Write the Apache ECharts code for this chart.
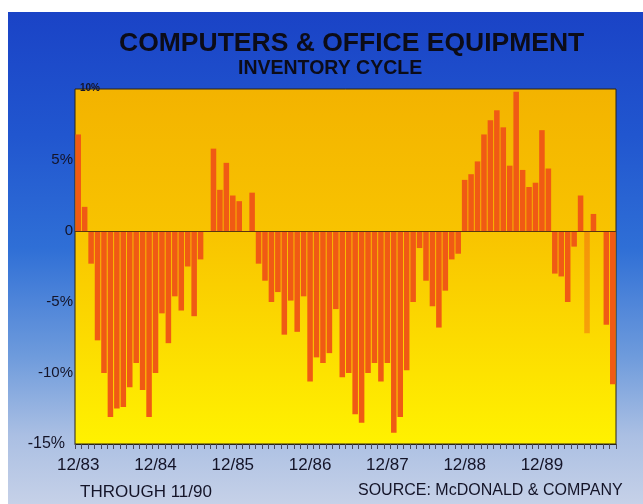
<!DOCTYPE html>
<html>
<head>
<meta charset="utf-8">
<script src="https://cdn.jsdelivr.net/npm/echarts@6/dist/echarts.min.js"></script>
<style>
  html, body { margin: 0; padding: 0; background: #ffffff; }
  #wrap { position: relative; width: 643px; height: 504px; overflow: hidden; background: #ffffff; }
  #panel {
    position: absolute; left: 8px; top: 12px; right: 0; bottom: 0;
    background: linear-gradient(to bottom, #1a43c6 0%, #2156cf 25%, #2f6fd6 48%, #6e9bdc 70%, #aabfe3 86%, #c6d1e8 100%);
  }
  #chart { position: absolute; left: 0; top: 0; width: 643px; height: 504px; }
</style>
</head>
<body>
<div id="wrap">
  <div id="panel"></div>
  <div id="chart"></div>
</div>
<script>
// Monthly inventory cycle, computers & office equipment, 12/83 through 11/90 (percent)
const startYear = 83;
const monthCount = 84;
const yTicks = [-15, -10, -5, 0, 5, 10];

const cycleValues = [
  6.8, 1.7, -2.3, -7.7, -10.0, -13.1, -12.5, -12.4, -11.0, -9.3, -11.2, -13.1,
  -10.0, -5.8, -7.9, -4.6, -5.6, -2.5, -6.0, -2.0, 0, 5.8, 2.9, 4.8,
  2.5, 2.1, 0, 2.7, -2.3, -3.5, -5.0, -4.3, -7.3, -4.9, -7.1, -4.6,
  -10.6, -8.9, -9.3, -8.6, -5.5, -10.3, -10.0, -12.9, -13.5, -10.0, -9.3, -10.6,
  -9.3, -14.2, -13.1, -9.8, -5.0, -1.2, -3.5, -5.3, -6.8, -4.2, -2.0, -1.6,
  3.6, 4.0, 4.9, 6.8, 7.8, 8.5, 7.3, 4.6, 9.8, 4.3, 3.1, 3.4,
  7.1, 4.4, -3.0, -3.2, -5.0, -1.1, 2.5, -7.2, 1.2, 0, -6.6, -10.8
];

// month labels "M/YY", starting December
const monthLabels = [];
for (let i = 0; i < monthCount; i++) {
  const m = (11 + i) % 12 + 1;
  const y = startYear + Math.floor((11 + i) / 12);
  monthLabels.push(m + '/' + y);
}
// the July 1990 bar printed faintly
const faintMonths = ['7/90'];

const sans = '"Liberation Sans", Arial, Helvetica, sans-serif';

const chart = echarts.init(document.getElementById('chart'), null, { renderer: 'canvas' });

const barData = cycleValues.map((v, i) =>
  faintMonths.includes(monthLabels[i]) ? { value: v, itemStyle: { opacity: 0.45 } } : v
);

chart.setOption({
  backgroundColor: 'transparent',
  animation: false,
  title: [
    {
      text: 'COMPUTERS & OFFICE EQUIPMENT',
      left: 114, top: 25,
      textStyle: { fontFamily: sans, fontWeight: 'bold', fontSize: 26.5, color: '#0c0c18' }
    },
    {
      text: 'INVENTORY CYCLE',
      left: 233, top: 54,
      textStyle: { fontFamily: sans, fontWeight: 'bold', fontSize: 19.5, color: '#0c0c18' }
    }
  ],
  grid: {
    left: 75, right: 27, top: 89, bottom: 60,
    show: true,
    borderColor: '#2b2418', borderWidth: 1,
    backgroundColor: new echarts.graphic.LinearGradient(0, 0, 0, 1, [
      { offset: 0, color: '#f3b300' },
      { offset: 0.4, color: '#f8c300' },
      { offset: 0.7, color: '#fcdb00' },
      { offset: 1, color: '#fff200' }
    ])
  },
  xAxis: {
    type: 'category',
    data: monthLabels,
    boundaryGap: true,
    axisLine: { show: true, onZero: false, lineStyle: { color: '#2b2418', width: 1 } },
    axisTick: { show: true, interval: 0, length: 5, lineStyle: { color: '#4a4a5a', width: 1 } },
    axisLabel: {
      interval: (idx, val) => val.indexOf('12/') === 0,
      color: '#141428', fontFamily: sans, fontSize: 17, margin: 13
    },
    splitLine: { show: false }
  },
  yAxis: {
    type: 'value',
    min: yTicks[0], max: yTicks[yTicks.length - 1], interval: 5,
    axisLine: { show: false },
    axisTick: { show: false },
    splitLine: { show: false },
    axisLabel: {
      margin: 2,
      color: '#141428', fontFamily: sans, fontSize: 15,
      formatter: v => {
        if (v === 10) return '';
        if (v === -15) return '{low|-15%}';
        return v === 0 ? '0' : v + '%';
      },
      rich: { low: { fontFamily: sans, fontSize: 16, color: '#141428', padding: [0, 8, 0, 0] } }
    }
  },
  series: [{
    type: 'bar',
    data: barData,
    barCategoryGap: '14%',
    itemStyle: { color: '#f05a14' },
    markLine: {
      silent: true,
      symbol: 'none',
      label: { show: false },
      lineStyle: { color: '#5a3410', width: 1.2, type: 'solid' },
      data: [{ yAxis: 0 }]
    }
  }],
  graphic: [
    { type: 'text', left: 80, top: 83, style: { text: '10%', font: 'bold 10px ' + sans, fill: '#141428' } },
    { type: 'text', left: 80, top: 484, style: { text: 'THROUGH 11/90', font: '17px ' + sans, fill: '#141428' } },
    { type: 'text', left: 358, top: 483, style: { text: 'SOURCE: McDONALD & COMPANY', font: '16px ' + sans, fill: '#141428' } }
  ]
});
</script>
</body>
</html>
